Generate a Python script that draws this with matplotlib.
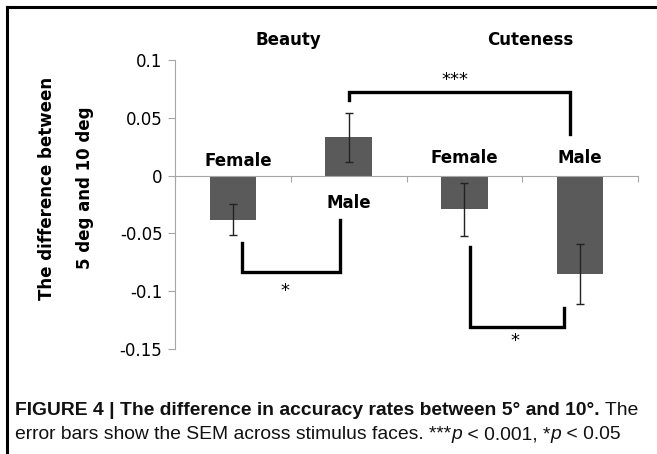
#!/usr/bin/env python3

# import modules
from matplotlib import pyplot as plt
from matplotlib.lines import Line2D
import numpy as np

# data
conditions = ['Female', 'Male', 'Female', 'Male']
groups = ['Beauty', 'Cuteness']
differences = [-0.038, 0.033, -0.029, -0.085]
sem = [0.013, 0.021, 0.023, 0.026]
yticks = [0.1, 0.05, 0, -0.05, -0.1, -0.15]
ytick_labels = ['0.1', '0.05', '0', '-0.05', '-0.1', '-0.15']

bar_color = '#5a5a5a'
axis_color = '#a6a6a6'

plt.rcParams['font.family'] = ['DejaVu Sans']

fig = plt.figure(figsize=(6.57, 4.54), dpi=100)
ax = fig.add_axes([175 / 657, 1 - 349 / 454, 463 / 657, 289 / 454])

x = np.arange(len(differences))
ax.bar(x, differences, width=0.4, color=bar_color, zorder=2)
ax.errorbar(x, differences, yerr=sem, fmt='none', ecolor='#222222',
            elinewidth=1, capsize=3, capthick=1, zorder=3)

ax.set_xlim(-0.5, 3.5)
ax.set_ylim(-0.15, 0.1)

# axes styling, excel like
for side in ['top', 'right']:
	ax.spines[side].set_visible(False)
ax.spines['bottom'].set_position(('data', 0))
ax.spines['bottom'].set_color(axis_color)
ax.spines['left'].set_color(axis_color)
ax.set_yticks(yticks)
ax.set_yticklabels(ytick_labels, fontsize=12)
ax.tick_params(axis='y', length=5, color=axis_color, pad=4)
ax.set_xticks(np.arange(-0.5, 4, 1))
ax.set_xticklabels([])
ax.tick_params(axis='x', length=4, color=axis_color, direction='out')

# condition labels next to the bars
label_y = [0.013, -0.024, 0.0155, 0.0155]
for xi, txt, yy in zip(x, conditions, label_y):
	ax.text(xi + (0.05 if xi == 0 else 0), yy, txt, ha='center', va='center',
	        fontsize=12, fontweight='bold')

# group titles
for gx, g in zip([0.48, 2.57], groups):
	ax.text(gx, 0.1175, g, ha='center', va='center', fontsize=12,
	        fontweight='bold')

# significance brackets
brackets = [
	([0.08, 0.08, 0.925, 0.925], [-0.058, -0.0836, -0.0836, -0.038], (0.45, -0.1), '*'),
	([1.0, 1.0, 2.91, 2.91], [0.0655, 0.0724, 0.0724, 0.0362], (1.92, 0.083), '***'),
	([2.05, 2.05, 2.86, 2.86], [-0.062, -0.131, -0.131, -0.1147], (2.44, -0.143), '*'),
]
for bx, by, (sx, sy), stars in brackets:
	ax.plot(bx, by, color='black', lw=2.4, solid_joinstyle='miter',
	        clip_on=False, zorder=4)
	ax.text(sx, sy, stars, ha='center', va='center', fontsize=13)

# y label in two lines
fig.text(47 / 657, 1 - 188 / 454, 'The difference between', rotation=90,
         ha='center', va='center', fontsize=12, fontweight='bold')
fig.text(85 / 657, 1 - 188 / 454, '5 deg and 10 deg', rotation=90,
         ha='center', va='center', fontsize=12, fontweight='bold')

# frame around the panel
fig.add_artist(Line2D([7 / 657, 1], [1 - 7 / 454, 1 - 7 / 454],
                      transform=fig.transFigure, color='black', lw=2.2))
fig.add_artist(Line2D([7 / 657, 7 / 657], [0, 1 - 7 / 454],
                      transform=fig.transFigure, color='black', lw=2.2,
                      solid_capstyle='projecting'))

# caption, chained pieces with mixed styles
cap = dict(family='Liberation Sans', fontsize=13.9, color='#111111')
t = fig.text(15 / 657, 1 - 415 / 454,
             'FIGURE 4 | The difference in accuracy rates between 5\u00b0 and 10\u00b0.',
             fontweight='bold', va='baseline', **cap)
ax.annotate(' The', xy=(1, 0), xycoords=t, va='bottom', ha='left', **cap)
pieces = [
	('error bars show the SEM across stimulus faces. ***', 'normal'),
	('p', 'italic'),
	(' < 0.001, *', 'normal'),
	('p', 'italic'),
	(' < 0.05', 'normal'),
]
prev = fig.text(15 / 657, 1 - 439 / 454, pieces[0][0], va='baseline', **cap)
for txt, style in pieces[1:]:
	prev = ax.annotate(txt, xy=(1, 0), xycoords=prev, va='bottom', ha='left',
	                   style=style, **cap)

# write to disk
fig.savefig('out.png', dpi=100)
